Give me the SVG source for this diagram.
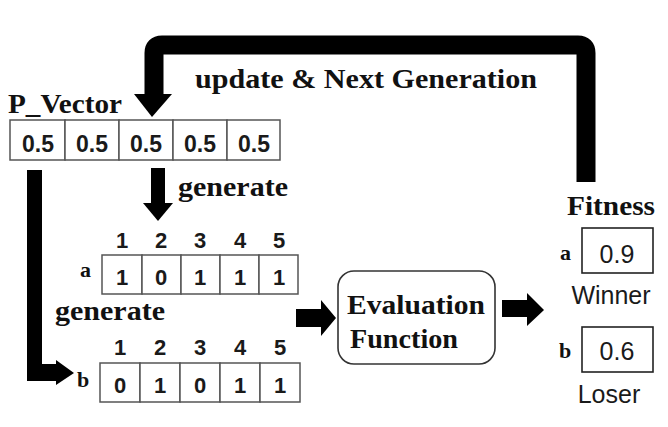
<svg xmlns="http://www.w3.org/2000/svg" width="668" height="427" viewBox="0 0 668 427">
<style>
.lbl{font-family:"Liberation Serif","Times New Roman",serif;font-weight:bold;fill:#111}
.num{font-family:"Liberation Sans",Arial,sans-serif;font-weight:bold;fill:#1a1a1a;text-anchor:middle}
.reg{font-family:"Liberation Sans",Arial,sans-serif;fill:#1a1a1a;text-anchor:middle}
.cell{fill:#fff;stroke:#555;stroke-width:1.5}
.box{fill:#fff;stroke:#222;stroke-width:1.6}
.arr{fill:#000}
</style>
<rect width="668" height="427" fill="#fff"/>

<g id="connectors">
  <path d="M586,182 V53 Q586,45 578,45 H162 Q154,45 154,53 V96" fill="none" stroke="#000" stroke-width="19"/>
  <polygon class="arr" points="134,94 172,94 152,117"/>
  <rect class="arr" x="151" y="168" width="14" height="36"/>
  <polygon class="arr" points="143,203 173,203 158,221"/>
  <path class="arr" d="M27,170 H42 V364 H56 V360 L74,373 L56,385 V381 H27 Z"/>
  <path class="arr" d="M296,309 H321 V300 L336,318 L321,336 V327 H296 Z"/>
  <path class="arr" d="M502,300 H527 V293 L544,310 L527,326 V317 H502 Z"/>
</g>

<g id="pvector">
  <text class="lbl" x="8" y="113" font-size="27" textLength="114" lengthAdjust="spacingAndGlyphs">P_Vector</text>
  <rect class="cell" x="10" y="120" width="55" height="40"/>
  <rect class="cell" x="65" y="120" width="54" height="40"/>
  <rect class="cell" x="119" y="120" width="54" height="40"/>
  <rect class="cell" x="173" y="120" width="54" height="40"/>
  <rect class="cell" x="227" y="120" width="53" height="40"/>
  <g class="num" font-size="23">
    <text x="38" y="152">0.5</text>
    <text x="92" y="152">0.5</text>
    <text x="146" y="152">0.5</text>
    <text x="200" y="152">0.5</text>
    <text x="254" y="152">0.5</text>
  </g>
</g>

<g id="label-update">
  <text class="lbl" x="195" y="88" font-size="28" textLength="342" lengthAdjust="spacingAndGlyphs">update &amp; Next Generation</text>
</g>
<g id="label-generate1">
  <text class="lbl" x="178" y="196" font-size="28" textLength="110" lengthAdjust="spacingAndGlyphs">generate</text>
</g>
<g id="label-generate2">
  <text class="lbl" x="55" y="320" font-size="28" textLength="110" lengthAdjust="spacingAndGlyphs">generate</text>
</g>

<g id="individual-a">
  <text class="lbl" x="80" y="277" font-size="22">a</text>
  <g class="num" font-size="22">
    <text x="122" y="248">1</text><text x="161" y="248">2</text><text x="200" y="248">3</text><text x="240" y="248">4</text><text x="279" y="248">5</text>
  </g>
  <rect class="cell" x="102" y="255" width="40" height="39"/>
  <rect class="cell" x="142" y="255" width="39" height="39"/>
  <rect class="cell" x="181" y="255" width="39" height="39"/>
  <rect class="cell" x="220" y="255" width="39" height="39"/>
  <rect class="cell" x="259" y="255" width="39" height="39"/>
  <g class="num" font-size="22">
    <text x="122" y="285">1</text><text x="161" y="285">0</text><text x="200" y="285">1</text><text x="240" y="285">1</text><text x="279" y="285">1</text>
  </g>
</g>

<g id="individual-b">
  <text class="lbl" x="77" y="387" font-size="22">b</text>
  <g class="num" font-size="22">
    <text x="120" y="355">1</text><text x="160" y="355">2</text><text x="200" y="355">3</text><text x="240" y="355">4</text><text x="280" y="355">5</text>
  </g>
  <rect class="cell" x="100" y="363" width="40" height="39"/>
  <rect class="cell" x="140" y="363" width="40" height="39"/>
  <rect class="cell" x="180" y="363" width="40" height="39"/>
  <rect class="cell" x="220" y="363" width="40" height="39"/>
  <rect class="cell" x="260" y="363" width="40" height="39"/>
  <g class="num" font-size="22">
    <text x="120" y="393">0</text><text x="160" y="393">1</text><text x="200" y="393">0</text><text x="240" y="393">1</text><text x="280" y="393">1</text>
  </g>
</g>

<g id="evaluation">
  <rect x="338" y="271" width="157" height="93" rx="16" fill="#fff" stroke="#333" stroke-width="1.6"/>
  <text class="lbl" x="347" y="314" font-size="28" textLength="138" lengthAdjust="spacingAndGlyphs">Evaluation</text>
  <text class="lbl" x="350" y="348" font-size="28" textLength="108" lengthAdjust="spacingAndGlyphs">Function</text>
</g>

<g id="fitness">
  <text class="lbl" x="567" y="215" font-size="28" textLength="88" lengthAdjust="spacingAndGlyphs">Fitness</text>
  <text class="lbl" x="560" y="260" font-size="22">a</text>
  <rect class="box" x="582" y="228" width="71" height="45"/>
  <text class="reg" x="617" y="263" font-size="25">0.9</text>
  <text class="reg" x="611" y="304" font-size="25">Winner</text>
  <text class="lbl" x="559" y="358" font-size="22">b</text>
  <rect class="box" x="582" y="327" width="71" height="45"/>
  <text class="reg" x="617" y="360" font-size="25">0.6</text>
  <text class="reg" x="609" y="403" font-size="25">Loser</text>
</g>
</svg>
